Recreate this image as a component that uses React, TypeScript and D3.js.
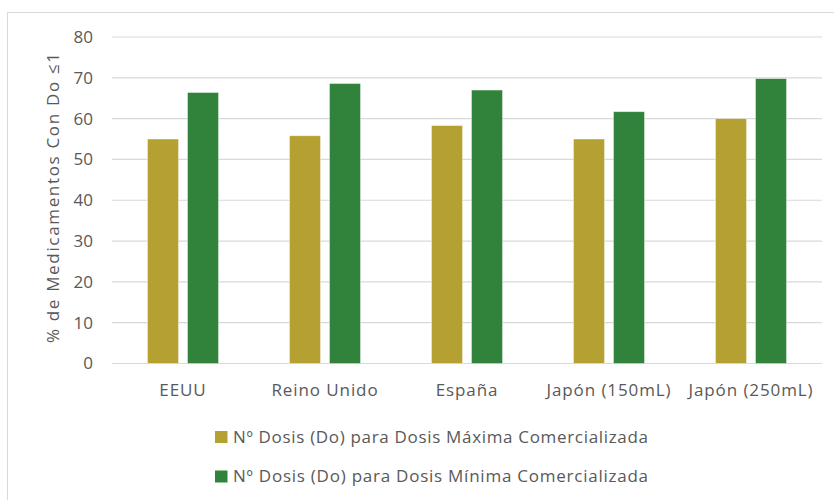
import React from "react";
import * as d3 from "d3";

const categories = ["EEUU", "Reino Unido", "España", "Japón (150mL)", "Japón (250mL)"];
const seriesNames = [
  "Nº Dosis (Do) para Dosis Máxima Comercializada",
  "Nº Dosis (Do) para Dosis Mínima Comercializada",
];
const maxDoseValues = [55.0, 55.8, 58.3, 55.0, 60.0];
const minDoseValues = [66.4, 68.6, 67.0, 61.7, 69.8];
const yTicks = [0, 10, 20, 30, 40, 50, 60, 70, 80];
const colors = ["#B5A032", "#31823A"];
const yTitle = "% de Medicamentos Con Do ≤1";

const W = 834;
const H = 500;
const plot = { left: 112, right: 822, top: 37, bottom: 363.5 };
const FONT = "'Open Sans', 'Noto Sans', sans-serif";
const TXT = "#595959";

export default function App() {
  const x = d3.scaleBand<string>().domain(categories).range([plot.left, plot.right]).paddingInner(0).paddingOuter(0);
  const y = d3.scaleLinear().domain([0, 80]).range([plot.bottom, plot.top]);
  const series = [maxDoseValues, minDoseValues];
  const barW = 31;
  const gap = 9;
  const offsets = [-(gap / 2 + barW), gap / 2];

  return (
    <svg width={W} height={H} style={{ position: "absolute", left: 0, top: 0, display: "block" }} fontFamily={FONT}>
      <rect x={0} y={0} width={W} height={H} fill="#fff" />
      <rect x={7.5} y={12.5} width={W + 10} height={H + 10} fill="none" stroke="#D9D9D9" strokeWidth={1} />
      {yTicks.map((t) => (
        <g key={t}>
          <line x1={plot.left} x2={plot.right} y1={y(t)} y2={y(t)} stroke="#D9D9D9" strokeWidth={1.2} />
          <text x={93} y={y(t)} dy="0.35em" textAnchor="end" fontSize={17} fill={TXT}>
            {t}
          </text>
        </g>
      ))}
      {series.map((vals, si) =>
        categories.map((c, i) => {
          const cx = (x(c) as number) + x.bandwidth() / 2;
          return (
            <rect
              key={si + "-" + c}
              x={cx + offsets[si]}
              y={y(vals[i])}
              width={barW}
              height={y(0) - y(vals[i])}
              fill={colors[si]}
              stroke="#fff"
              strokeOpacity={0.5}
              strokeWidth={0.8}
            />
          );
        })
      )}
      {categories.map((c) => (
        <text
          key={c}
          x={(x(c) as number) + x.bandwidth() / 2}
          y={390}
          dy="0.35em"
          textAnchor="middle"
          fontSize={17}
          letterSpacing={0.9}
          fill={TXT}
        >
          {c}
        </text>
      ))}
      <text
        transform={`translate(53, 198) rotate(-90)`}
        textAnchor="middle"
        dy="0.35em"
        fontSize={17}
        textLength={290}
        lengthAdjust="spacing"
        fill={TXT}
      >
        {yTitle}
      </text>
      {seriesNames.map((s, i) => (
        <g key={s} transform={`translate(215, ${437 + i * 39.5})`}>
          <rect x={0} y={-6} width={12.5} height={12} fill={colors[i]} />
          <text x={18} y={0} dy="0.35em" fontSize={17} textLength={415} lengthAdjust="spacing" fill={TXT}>
            {s}
          </text>
        </g>
      ))}
    </svg>
  );
}
